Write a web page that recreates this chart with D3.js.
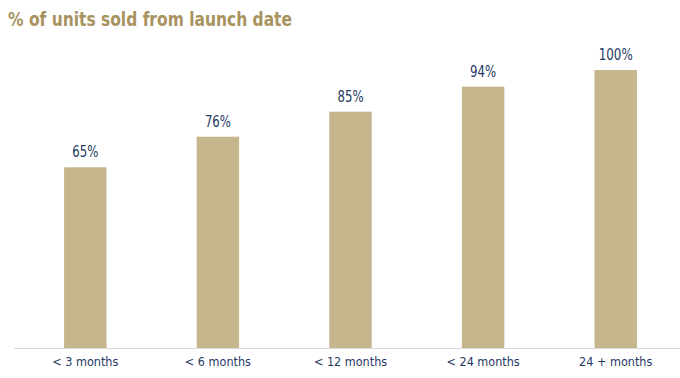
<!DOCTYPE html>
<html>
<head>
<meta charset="utf-8">
<script src="https://cdn.jsdelivr.net/npm/d3@7"></script>
<style>
  body { margin: 0; background: #fff; }
  text { font-family: "DejaVu Sans Condensed", "DejaVu Sans", sans-serif; }
</style>
</head>
<body>
<div id="chart"></div>
<script>
const categories = ["< 3 months", "< 6 months", "< 12 months", "< 24 months", "24 + months"];
const values = [65, 76, 85, 94, 100];

function createChart() {
    var width = 680;
    var height = 378;
    var margin = ({top: 70, right: -2, bottom: 30, left: 19});
    var baseY = 348;

    var x = d3.scaleBand()
        .domain(categories)
        .range([margin.left, width - margin.right])
        .paddingInner(0.68)
        .paddingOuter(0.34);

    var y = d3.scaleLinear()
        .domain([0, 100])
        .range([baseY, margin.top]);

    var svg = d3.select("#chart")
        .append("svg")
            .attr("viewBox", [0, 0, width, height])
            .attr("width", width)
            .attr("height", height);

    // title is set in a narrow face in the original, squeeze it to fit
    svg.append("text")
        .attr("x", 8)
        .attr("y", 26)
        .attr("fill", "#a8935f")
        .attr("font-size", 20)
        .attr("font-weight", "bold")
        .attr("textLength", 284)
        .attr("lengthAdjust", "spacingAndGlyphs")
        .text("% of units sold from launch date");

    svg.append("g")
        .selectAll("rect")
        .data(values)
        .join("rect")
            .attr("x", (d, i) => x(categories[i]))
            .attr("y", d => y(d))
            .attr("width", x.bandwidth())
            .attr("height", d => y(0) - y(d))
            .attr("fill", "#c5b68d");

    svg.append("g")
        .selectAll("text")
        .data(values)
        .join("text")
            .attr("x", (d, i) => x(categories[i]) + x.bandwidth() / 2)
            .attr("y", d => y(d) - 10)
            .attr("text-anchor", "middle")
            .attr("fill", "#1f3864")
            .attr("font-size", 15.5)
            .attr("textLength", d => d === 100 ? 34 : 26)
            .attr("lengthAdjust", "spacingAndGlyphs")
            .text(d => d + "%");

    var xAxis = g => g
        .attr("transform", `translate(0,${baseY})`)
        .call(d3.axisBottom(x).tickSize(0).tickPadding(9))
        .call(g => g.select(".domain").attr("stroke", "#d9d9d9").attr("d", `M14,0.5H${width}`))
        .call(g => g.selectAll(".tick text")
            .attr("fill", "#1f3864")
            .attr("font-size", 12.5)
            .attr("font-family", "'DejaVu Sans Condensed', sans-serif"));

    svg.append("g")
        .call(xAxis);
}

createChart();
</script>
</body>
</html>
